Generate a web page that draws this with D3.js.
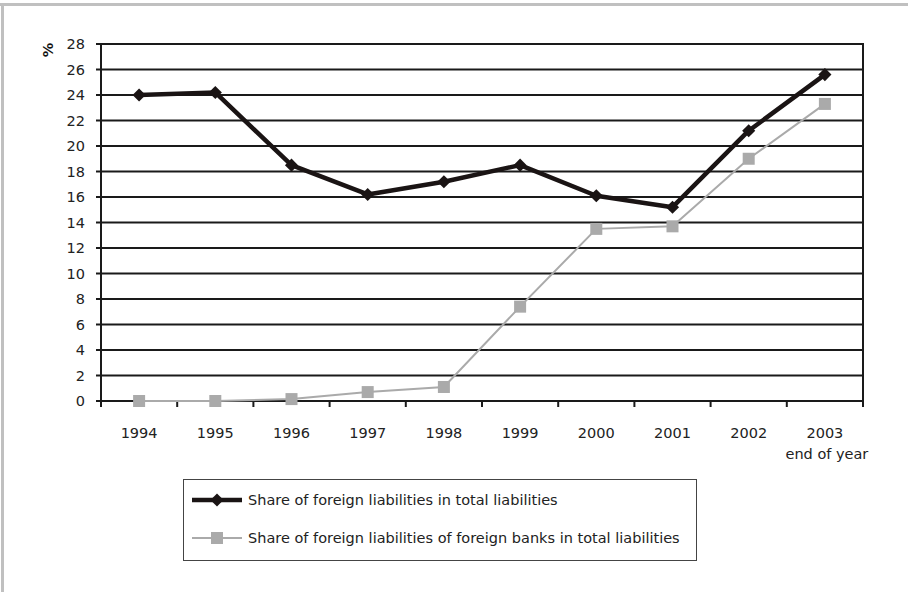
<!DOCTYPE html>
<html>
<head>
<meta charset="utf-8">
<script src="https://cdn.jsdelivr.net/npm/d3@7"></script>
<style>
  body { margin: 0; background: #fff; }
  svg { display: block; font-family: "DejaVu Sans", Verdana, sans-serif; }
</style>
</head>
<body>
<div id="chart"></div>
<script>
// data
const years = ["1994", "1995", "1996", "1997", "1998", "1999", "2000", "2001", "2002", "2003"];
const totalShare = [24.0, 24.2, 18.5, 16.2, 17.2, 18.5, 16.1, 15.2, 21.2, 25.6];
const foreignBankShare = [0.0, 0.0, 0.15, 0.7, 1.1, 7.4, 13.5, 13.7, 19.0, 23.3];
const yTicks = d3.range(0, 29, 2);
const legendLabels = [
    "Share of foreign liabilities in total liabilities",
    "Share of foreign liabilities of foreign banks in total liabilities"
];

const width = 908, height = 592;
const fontSize = 14.5;
const svg = d3.select("#chart").append("svg")
    .attr("width", width)
    .attr("height", height);

// frame on left and top
svg.append("rect").attr("x", 0).attr("y", 3).attr("width", width).attr("height", 3).attr("fill", "#c0c0c0");
svg.append("rect").attr("x", 1).attr("y", 3).attr("width", 3).attr("height", height).attr("fill", "#c0c0c0");

const plotLeft = 101, plotRight = 863, plotTop = 44, plotBottom = 401;

const x = d3.scaleBand()
    .domain(years)
    .range([plotLeft, plotRight])
    .padding(0);
const y = d3.scaleLinear()
    .domain([0, 28])
    .range([plotBottom, plotTop]);

// gridlines
svg.append("g")
    .selectAll("line")
    .data(yTicks)
    .join("line")
    .attr("x1", plotLeft - 5)
    .attr("x2", plotRight)
    .attr("y1", d => y(d))
    .attr("y2", d => y(d))
    .attr("stroke", "#1a1a1a")
    .attr("stroke-width", 2);

// y labels
svg.append("g")
    .selectAll("text")
    .data(yTicks)
    .join("text")
    .attr("x", 85)
    .attr("y", d => y(d))
    .attr("dy", "0.36em")
    .attr("text-anchor", "end")
    .attr("font-size", fontSize)
    .attr("fill", "#222")
    .text(d => d);

// left and right borders of plot
svg.append("line").attr("x1", plotLeft).attr("x2", plotLeft).attr("y1", plotTop - 1).attr("y2", plotBottom + 6)
    .attr("stroke", "#1a1a1a").attr("stroke-width", 2);
svg.append("line").attr("x1", plotRight).attr("x2", plotRight).attr("y1", plotTop - 1).attr("y2", plotBottom + 6)
    .attr("stroke", "#1a1a1a").attr("stroke-width", 2);

// x tick marks at band edges
const edges = years.map(d => x(d)).slice(1);
svg.append("g")
    .selectAll("line")
    .data(edges)
    .join("line")
    .attr("x1", d => d).attr("x2", d => d)
    .attr("y1", plotBottom).attr("y2", plotBottom + 6)
    .attr("stroke", "#1a1a1a")
    .attr("stroke-width", 2);

// x labels
svg.append("g")
    .selectAll("text")
    .data(years)
    .join("text")
    .attr("x", d => x(d) + x.bandwidth() / 2)
    .attr("y", 438)
    .attr("text-anchor", "middle")
    .attr("font-size", fontSize)
    .attr("fill", "#222")
    .text(d => d);

svg.append("text")
    .attr("x", x("2003") + x.bandwidth() / 2 + 2)
    .attr("y", 459)
    .attr("text-anchor", "middle")
    .attr("font-size", fontSize)
    .attr("fill", "#222")
    .text("end of year");

// % label
svg.append("text")
    .attr("transform", "translate(53,50) rotate(-90)")
    .attr("text-anchor", "middle")
    .attr("font-size", fontSize)
    .attr("font-weight", "bold")
    .attr("fill", "#111")
    .text("%");

const cx = (d, i) => x(years[i]) + x.bandwidth() / 2;
const line = d3.line()
    .x((d, i) => cx(d, i))
    .y(d => y(d));

// black series
svg.append("path")
    .datum(totalShare)
    .attr("d", line)
    .attr("fill", "none")
    .attr("stroke", "#1a1414")
    .attr("stroke-width", 4.5)
    .attr("stroke-linejoin", "round");

const diamond = d3.symbol().type(d3.symbolDiamond2).size(110);
svg.append("g")
    .selectAll("path")
    .data(totalShare)
    .join("path")
    .attr("transform", (d, i) => `translate(${cx(d, i)},${y(d)})`)
    .attr("d", diamond)
    .attr("fill", "#1a1414");

// gray series
svg.append("path")
    .datum(foreignBankShare)
    .attr("d", line)
    .attr("fill", "none")
    .attr("stroke", "#aaaaaa")
    .attr("stroke-width", 2);

svg.append("g")
    .selectAll("rect")
    .data(foreignBankShare)
    .join("rect")
    .attr("x", (d, i) => cx(d, i) - 6)
    .attr("y", d => y(d) - 6)
    .attr("width", 12)
    .attr("height", 12)
    .attr("fill", "#aaaaaa");

// legend
const legend = svg.append("g");
legend.append("rect")
    .attr("x", 183.5).attr("y", 479.5)
    .attr("width", 513).attr("height", 81)
    .attr("fill", "none")
    .attr("stroke", "#444")
    .attr("stroke-width", 1);

const legendY = [500, 538];
// entry 1
legend.append("line").attr("x1", 192).attr("x2", 242).attr("y1", legendY[0]).attr("y2", legendY[0])
    .attr("stroke", "#1a1414").attr("stroke-width", 4.5);
legend.append("path").attr("transform", `translate(217,${legendY[0]})`).attr("d", diamond).attr("fill", "#1a1414");
// entry 2
legend.append("line").attr("x1", 192).attr("x2", 242).attr("y1", legendY[1]).attr("y2", legendY[1])
    .attr("stroke", "#aaaaaa").attr("stroke-width", 2);
legend.append("rect").attr("x", 211).attr("y", legendY[1] - 6).attr("width", 12).attr("height", 12).attr("fill", "#aaaaaa");

legend.selectAll("text.lbl")
    .data(legendLabels)
    .join("text")
    .attr("class", "lbl")
    .attr("x", 248)
    .attr("y", (d, i) => legendY[i])
    .attr("dy", "0.36em")
    .attr("font-size", fontSize)
    .attr("fill", "#222")
    .text(d => d);
</script>
</body>
</html>
